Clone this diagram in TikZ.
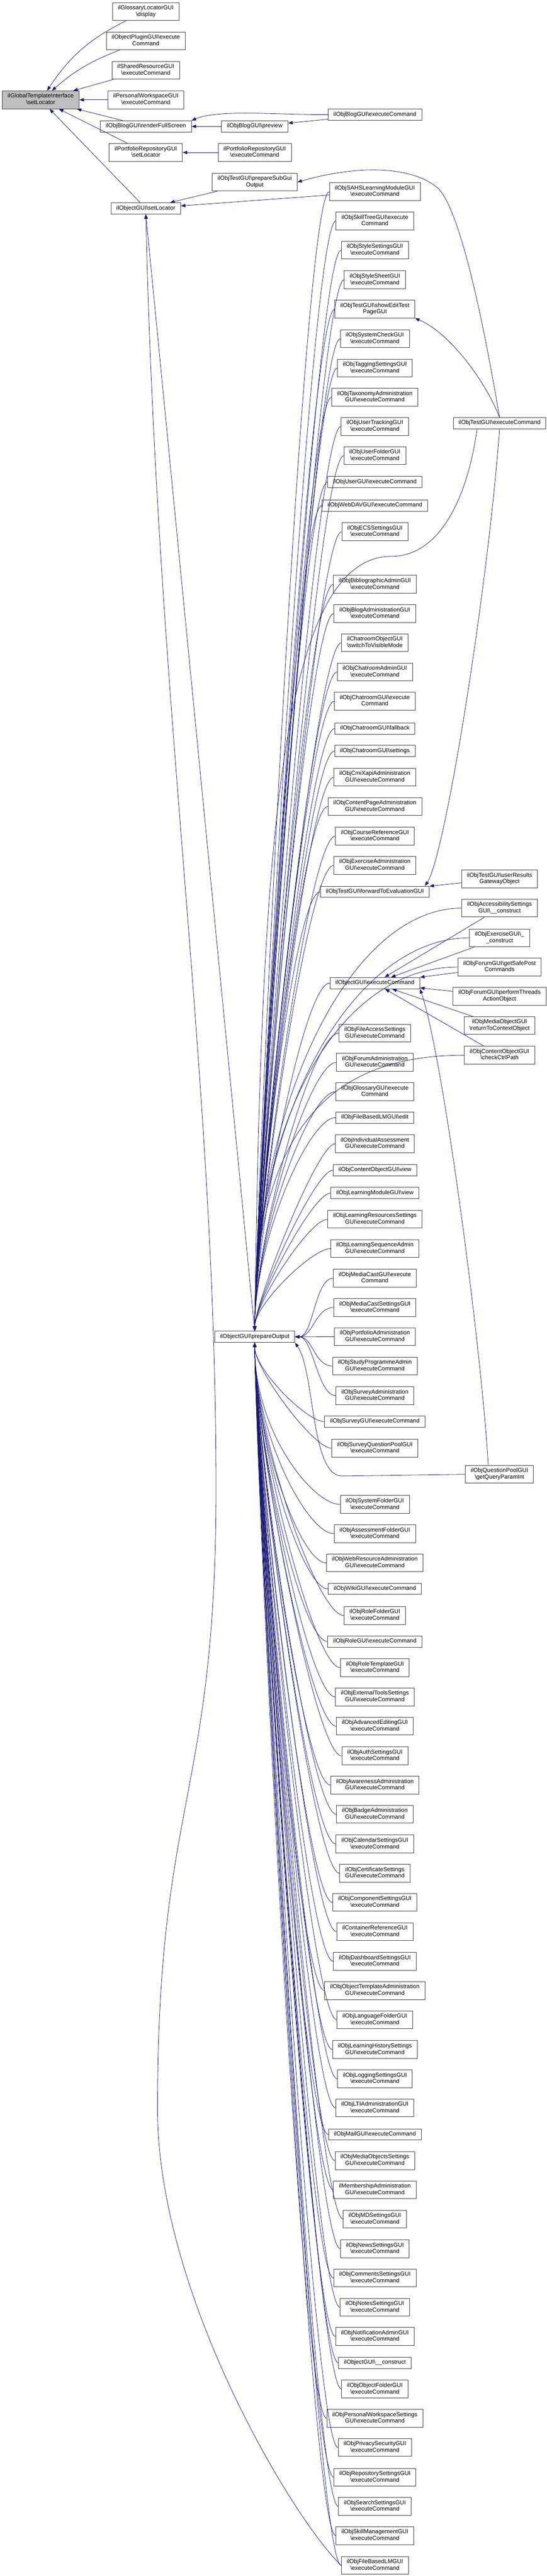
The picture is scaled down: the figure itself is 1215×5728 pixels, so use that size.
\documentclass[tikz,border=0pt]{standalone}
\usepackage{fontspec}
\setmainfont{Liberation Sans}
\usetikzlibrary{arrows.meta}
\definecolor{edgec}{HTML}{191970}
\definecolor{rootfill}{HTML}{BFBFBF}
\newcommand{\bs}{\textbackslash}
\newcommand{\one}[1]{\strut #1}
\newcommand{\two}[2]{\strut #1\\\strut #2}
\newcommand{\nfont}{\fontsize{13}{14.5}\selectfont}
\newcommand{\M}[3]{\node[box,anchor=north] (#1) at (833,-#2) {#3};}
\newcommand{\R}[3]{\node[box,anchor=north] (#1) at (1110,-#2) {#3};}
\newcommand{\up}[1]{\draw[e] (po.north) .. controls +(0,200) and +(-60,0) .. (#1.west);}
\newcommand{\upS}[1]{\draw[e] (po.north) .. controls +(0,60) and +(-40,0) .. (#1.west);}
\newcommand{\dn}[1]{\draw[e] (po.south) .. controls +(0,-200) and +(-60,0) .. (#1.west);}
\newcommand{\dnS}[1]{\draw[e] (po.south) .. controls +(0,-60) and +(-40,0) .. (#1.west);}
\newcommand{\rt}[1]{\draw[e] (po.east) .. controls +(40,0) and +(-40,0) .. (#1.west);}
\begin{document}
\begin{tikzpicture}[x=1pt,y=1pt,
  box/.style={draw=black!75,line width=1.1pt,fill=white,inner xsep=12pt,inner ysep=5.25pt,align=center,font=\nfont},
  e/.style={draw=edgec,line width=0.9pt,{Triangle[length=10pt,width=7.5pt]}-}]
\useasboundingbox (0,0) rectangle (1215,-5728);
% rank 0
\node[box,fill=rootfill] (root) at (90.5,-222) {\two{ilGlobalTemplateInterface}{\bs setLocator}};
% rank 1
\node[box] (glos) at (324,-25.5) {\two{ilGlossaryLocatorGUI}{\bs display}};
\node[box] (plug) at (324,-91) {\two{ilObjectPluginGUI\bs execute}{Command}};
\node[box] (shar) at (324,-156.5) {\two{ilSharedResourceGUI}{\bs executeCommand}};
\node[box] (pers) at (324,-222) {\two{ilPersonalWorkspaceGUI}{\bs executeCommand}};
\node[box] (rfs) at (324,-281) {\one{ilObjBlogGUI\bs renderFullScreen}};
\node[box] (psl) at (324,-339) {\two{ilPortfolioRepositoryGUI}{\bs setLocator}};
\node[box] (sl) at (324,-463.5) {\one{ilObjectGUI\bs setLocator}};
% rank 2
\node[box] (prev) at (566,-281) {\one{ilObjBlogGUI\bs preview}};
\node[box] (pex) at (566,-339) {\two{ilPortfolioRepositoryGUI}{\bs executeCommand}};
\node[box] (psg) at (566,-405) {\two{ilObjTestGUI\bs prepareSubGui}{Output}};
\node[box] (po) at (566,-2972.5) {\one{ilObjectGUI\bs prepareOutput}};
% rank 3
\M{bex}{242}{\one{ilObjBlogGUI\bs executeCommand}}
\M{sahs}{406}{\two{ilObjSAHSLearningModuleGUI}{\bs executeCommand}}
\M{skill}{471}{\two{ilObjSkillTreeGUI\bs execute}{Command}}
\M{styset}{536}{\two{ilObjStyleSettingsGUI}{\bs executeCommand}}
\M{stysh}{602}{\two{ilObjStyleSheetGUI}{\bs executeCommand}}
\M{show}{667}{\two{ilObjTestGUI\bs showEditTest}{PageGUI}}
\M{syschk}{733}{\two{ilObjSystemCheckGUI}{\bs executeCommand}}
\M{tag}{798}{\two{ilObjTaggingSettingsGUI}{\bs executeCommand}}
\M{tax}{863}{\two{ilObjTaxonomyAdministration}{GUI\bs executeCommand}}
\M{utrk}{928}{\two{ilObjUserTrackingGUI}{\bs executeCommand}}
\M{ufold}{993}{\two{ilObjUserFolderGUI}{\bs executeCommand}}
\M{user}{1059}{\one{ilObjUserGUI\bs executeCommand}}
\M{webdav}{1111}{\one{ilObjWebDAVGUI\bs executeCommand}}
\M{ecs}{1162}{\two{ilObjECSSettingsGUI}{\bs executeCommand}}
\M{bib}{1279}{\two{ilObjBibliographicAdminGUI}{\bs executeCommand}}
\M{blogadm}{1344}{\two{ilObjBlogAdministrationGUI}{\bs executeCommand}}
\M{chatvis}{1409}{\two{ilChatroomObjectGUI}{\bs switchToVisibleMode}}
\M{chatadm}{1474}{\two{ilObjChatroomAdminGUI}{\bs executeCommand}}
\M{chatex}{1539}{\two{ilObjChatroomGUI\bs execute}{Command}}
\M{fallb}{1607}{\one{ilObjChatroomGUI\bs fallback}}
\M{sett}{1657}{\one{ilObjChatroomGUI\bs settings}}
\M{cmi}{1708}{\two{ilObjCmiXapiAdministration}{GUI\bs executeCommand}}
\M{cpage}{1773}{\two{ilObjContentPageAdministration}{GUI\bs executeCommand}}
\M{cref}{1839}{\two{ilObjCourseReferenceGUI}{\bs executeCommand}}
\M{exadm}{1904}{\two{ilObjExerciseAdministration}{GUI\bs executeCommand}}
\M{fwd}{1970}{\one{ilObjTestGUI\bs forwardToEvaluationGUI}}
\M{oex}{2173}{\one{ilObjectGUI\bs executeCommand}}
\M{n27}{2277}{\two{ilObjFileAccessSettings}{GUI\bs executeCommand}}
\M{n28}{2342}{\two{ilObjForumAdministration}{GUI\bs executeCommand}}
\M{n29}{2407}{\two{ilObjGlossaryGUI\bs execute}{Command}}
\M{n30}{2472}{\one{ilObjFileBasedLMGUI\bs edit}}
\M{n31}{2523}{\two{ilObjIndividualAssessment}{GUI\bs executeCommand}}
\M{n32}{2589}{\one{ilObjContentObjectGUI\bs view}}
\M{n33}{2640}{\one{ilObjLearningModuleGUI\bs view}}
\M{n34}{2691}{\two{ilObjLearningResourcesSettings}{GUI\bs executeCommand}}
\M{n35}{2756}{\two{ilObjLearningSequenceAdmin}{GUI\bs executeCommand}}
\M{n36}{2822}{\two{ilObjMediaCastGUI\bs execute}{Command}}
\M{n37}{2887}{\two{ilObjMediaCastSettingsGUI}{\bs executeCommand}}
\M{n38}{2952}{\two{ilObjPortfolioAdministration}{GUI\bs executeCommand}}
\M{n39}{3017}{\two{ilObjStudyProgrammeAdmin}{GUI\bs executeCommand}}
\M{n40}{3083}{\two{ilObjSurveyAdministration}{GUI\bs executeCommand}}
\M{n41}{3148}{\one{ilObjSurveyGUI\bs executeCommand}}
\M{n42}{3200}{\two{ilObjSurveyQuestionPoolGUI}{\bs executeCommand}}
\M{n43}{3325}{\two{ilObjSystemFolderGUI}{\bs executeCommand}}
\M{n44}{3390}{\two{ilObjAssessmentFolderGUI}{\bs executeCommand}}
\M{n45}{3455}{\two{ilObjWebResourceAdministration}{GUI\bs executeCommand}}
\M{n46}{3520}{\one{ilObjWikiGUI\bs executeCommand}}
\M{n47}{3572}{\two{ilObjRoleFolderGUI}{\bs executeCommand}}
\M{n48}{3637}{\one{ilObjRoleGUI\bs executeCommand}}
\M{n49}{3688}{\two{ilObjRoleTemplateGUI}{\bs executeCommand}}
\M{n50}{3753}{\two{ilObjExternalToolsSettings}{GUI\bs executeCommand}}
\M{n51}{3818}{\two{ilObjAdvancedEditingGUI}{\bs executeCommand}}
\M{n52}{3884}{\two{ilObjAuthSettingsGUI}{\bs executeCommand}}
\M{n53}{3949}{\two{ilObjAwarenessAdministration}{GUI\bs executeCommand}}
\M{n54}{4014}{\two{ilObjBadgeAdministration}{GUI\bs executeCommand}}
\M{n55}{4080}{\two{ilObjCalendarSettingsGUI}{\bs executeCommand}}
\M{n56}{4145}{\two{ilObjCertificateSettings}{GUI\bs executeCommand}}
\M{n57}{4210}{\two{ilObjComponentSettingsGUI}{\bs executeCommand}}
\M{n58}{4275}{\two{ilContainerReferenceGUI}{\bs executeCommand}}
\M{n59}{4341}{\two{ilObjDashboardSettingsGUI}{\bs executeCommand}}
\M{n60}{4406}{\two{ilObjObjectTemplateAdministration}{GUI\bs executeCommand}}
\M{n61}{4471}{\two{ilObjLanguageFolderGUI}{\bs executeCommand}}
\M{n62}{4537}{\two{ilObjLearningHistorySettings}{GUI\bs executeCommand}}
\M{n63}{4602}{\two{ilObjLoggingSettingsGUI}{\bs executeCommand}}
\M{n64}{4667}{\two{ilObjLTIAdministrationGUI}{\bs executeCommand}}
\M{n65}{4733}{\one{ilObjMailGUI\bs executeCommand}}
\M{n66}{4784}{\two{ilObjMediaObjectsSettings}{GUI\bs executeCommand}}
\M{n67}{4849}{\two{ilMembershipAdministration}{GUI\bs executeCommand}}
\M{n68}{4914}{\two{ilObjMDSettingsGUI}{\bs executeCommand}}
\M{n69}{4980}{\two{ilObjNewsSettingsGUI}{\bs executeCommand}}
\M{n70}{5045}{\two{ilObjCommentsSettingsGUI}{\bs executeCommand}}
\M{n71}{5110}{\two{ilObjNotesSettingsGUI}{\bs executeCommand}}
\M{n72}{5175}{\two{ilObjNotificationAdminGUI}{\bs executeCommand}}
\M{n73}{5241}{\one{ilObjectGUI\bs\_\_construct}}
\M{n74}{5292}{\two{ilObjObjectFolderGUI}{\bs executeCommand}}
\M{n75}{5357}{\two{ilObjPersonalWorkspaceSettings}{GUI\bs executeCommand}}
\M{n76}{5422}{\two{ilObjPrivacySecurityGUI}{\bs executeCommand}}
\M{n77}{5488}{\two{ilObjRepositorySettingsGUI}{\bs executeCommand}}
\M{n78}{5553}{\two{ilObjSearchSettingsGUI}{\bs executeCommand}}
\M{n79}{5618}{\two{ilObjSkillManagementGUI}{\bs executeCommand}}
\M{fb}{5684}{\two{ilObjFileBasedLMGUI}{\bs executeCommand}}
% rank 4
\R{tex}{928}{\one{ilObjTestGUI\bs executeCommand}}
\R{urg}{1934}{\two{ilObjTestGUI\bs userResults}{GatewayObject}}
\R{acc}{1999}{\two{ilObjAccessibilitySettings}{GUI\bs\_\_construct}}
\R{exg}{2065}{\two{ilObjExerciseGUI\bs\_}{\_construct}}
\R{fgs}{2130}{\two{ilObjForumGUI\bs getSafePost}{Commands}}
\R{fpt}{2195}{\two{ilObjForumGUI\bs performThreads}{ActionObject}}
\R{mor}{2260}{\two{ilObjMediaObjectGUI}{\bs returnToContextObject}}
\R{coc}{2326}{\two{ilObjContentObjectGUI}{\bs checkCtrlPath}}
\R{qpi}{3258}{\two{ilObjQuestionPoolGUI}{\bs getQueryParamInt}}
% coordinates for long connectors
\coordinate (a1) at (480,-3310);
\coordinate (a2) at (350,-4690);
\coordinate (t1) at (975,-420);
\coordinate (g1) at (870,-1237);
\coordinate (gq) at (760,-3282);
% edges to root
\draw[e] (root) to[bend left=15] (glos);
\draw[e] (root) to[bend left=10] (plug);
\foreach \n in {shar,pers,rfs,psl,sl} {\draw[e] (root) -- (\n);}
\draw[e] (rfs) -- (prev);
\draw[e] (prev) -- (bex);
\draw[e] (rfs.north east) .. controls +(60,25) and +(-120,0) .. (bex.west);
\draw[e] (psl) -- (pex);
\draw[e] (sl) -- (psg);
\draw[e] (sl.south) -- (po.north);
\draw[e] (sl) -- (sahs);
\draw[e] (sl.south) .. controls (350,-1600) and (480,-2400) .. (a1)
   .. controls (480,-4000) and (350,-4000) .. (a2)
   .. controls (350,-5100) and (650,-5600) .. (fb.west);
\draw[e] (psg.east) .. controls (800,-365) and (920,-370) .. (t1)
   .. controls (1030,-480) and (1085,-780) .. (tex.north);
\draw[e] (show.south east) .. controls (1000,-740) and (1080,-850) .. (tex.north);
\draw[e] ([xshift=-10pt]fwd.north east) .. controls (990,-1900) and (1085,-1300) .. (tex.south);
\draw[e] (po.north) .. controls (580,-1900) and (620,-1237) .. (g1)
   .. controls (980,-1237) and (1040,-1100) .. ([xshift=-50pt]tex.south);
\draw[e] (fwd) -- (urg);
\foreach \n in {acc,exg,fgs,fpt,mor,coc} {\draw[e] (oex) -- (\n);}
\draw[e] (oex.south east) .. controls (985,-2350) and (1070,-3000) .. ([xshift=-25pt]qpi.north);
\foreach \n in {acc,exg,fgs,coc} {\draw[e] (po.north) .. controls +(0,500) and +(-250,0) .. (\n.west);}
\draw[e] (po.south east) .. controls (700,-3050) and (690,-3282) .. (gq) -- (qpi.west);
% fan into prepareOutput
\foreach \n in {sahs,skill,styset,stysh,show,syschk,tag,tax,utrk,ufold,user,webdav,ecs,bib,blogadm,chatvis,chatadm,chatex,fallb,sett,cmi,cpage,cref,exadm,fwd,oex,n27,n28,n29,n30} {\up{\n}}
\foreach \n in {n31,n32,n33,n34,n35} {\upS{\n}}
\foreach \n in {n36,n37,n38,n39,n40} {\rt{\n}}
\foreach \n in {n41,n42} {\dnS{\n}}
\foreach \n in {n43,n44,n45,n46,n47,n48,n49,n50,n51,n52,n53,n54,n55,n56,n57,n58,n59,n60,n61,n62,n63,n64,n65,n66,n67,n68,n69,n70,n71,n72,n73,n74,n75,n76,n77,n78,n79,fb} {\dn{\n}}
\end{tikzpicture}
\end{document}
